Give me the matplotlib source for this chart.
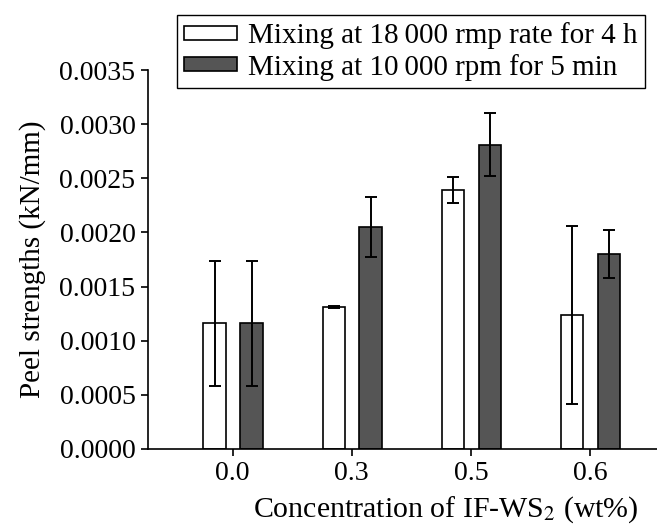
import matplotlib
matplotlib.use("Agg")
import matplotlib.pyplot as plt
import numpy as np

# Peel strength vs. IF-WS2 concentration, two mixing procedures
concentrations = ["0.0", "0.3", "0.5", "0.6"]
slow_mix = [0.00116, 0.00131, 0.00239, 0.00124]
slow_err = [0.00058, 0.00001, 0.00012, 0.00082]
fast_mix = [0.00116, 0.00205, 0.00281, 0.00180]
fast_err = [0.00058, 0.00028, 0.00029, 0.00022]
labels = ["Mixing at 18\u2009000 rmp rate for 4 h",
          "Mixing at 10\u2009000 rpm for 5 min"]

plt.rcParams["font.family"] = ["Liberation Serif", "DejaVu Serif"]
plt.rcParams["font.size"] = 20
plt.rcParams["mathtext.fontset"] = "stix"

W, H = 657, 530
fig = plt.figure(figsize=(W / 100, H / 100), dpi=100)
ax = fig.add_axes([148 / W, 1 - 449 / H, (W - 148) / W, (449 - 70) / H])

x = np.arange(len(concentrations))
width = 0.19
err_kw = dict(ecolor="black", elinewidth=1.4, capsize=4, capthick=1.4)
ax.bar(x - 0.15, slow_mix, width, yerr=slow_err, color="white",
       edgecolor="black", linewidth=1.2, error_kw=err_kw, label=labels[0])
ax.bar(x + 0.16, fast_mix, width, yerr=fast_err, color="#555555",
       edgecolor="black", linewidth=1.2, error_kw=err_kw, label=labels[1])

ax.set_xlim(-0.71, 3 + (W - 590) / 119)
ax.set_ylim(0, 0.0035)
ax.set_yticks(np.arange(0, 0.0036, 0.0005))
ax.set_yticklabels([f"{v:.4f}" for v in np.arange(0, 0.0036, 0.0005)])
ax.set_xticks(x)
ax.set_xticklabels(concentrations)
ax.tick_params(direction="out", length=5, width=1.2, pad=4)
for side in ("top", "right"):
    ax.spines[side].set_visible(False)
for side in ("left", "bottom"):
    ax.spines[side].set_linewidth(1.2)

ax.set_ylabel("Peel strengths (kN/mm)", fontsize=21)
ax.set_xlabel("Concentration of IF-WS$_2$ (wt%)", fontsize=21.5)
ax.xaxis.set_label_coords((446 - 148) / (W - 148), -0.12)
ax.yaxis.set_label_coords(-0.2, 0.5)

fig.legend(loc="upper left", bbox_to_anchor=(177 / W, 1 - 15 / H),
           frameon=True, fancybox=False, edgecolor="black", framealpha=1,
           fontsize=21, borderaxespad=0, borderpad=0.25, labelspacing=0.15,
           handlelength=1.8, handleheight=0.35, handletextpad=0.4)

fig.savefig("out.png", dpi=100)
